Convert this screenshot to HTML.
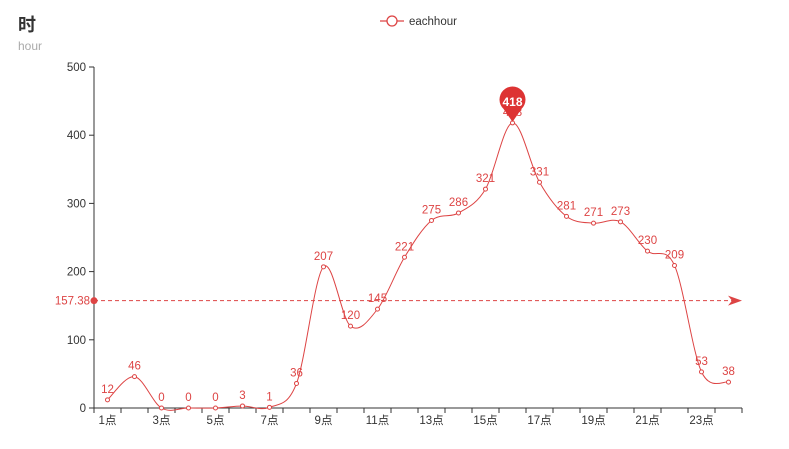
<!DOCTYPE html>
<html><head><meta charset="utf-8"><style>
body{margin:0;background:#fff;}
svg{display:block;font-family:"Liberation Sans","Noto Sans CJK SC",sans-serif;}
</style></head><body>
<svg id="c" width="789" height="449">
<text x="18" y="31" font-size="18" font-weight="bold" fill="#333">时</text>
<text x="18" y="50" font-size="12" fill="#aaa">hour</text>
<g>
<line x1="380" y1="21" x2="404" y2="21" stroke="#dd4444" stroke-width="1.3"/>
<circle cx="392" cy="21" r="5" fill="#fff" stroke="#dd4444" stroke-width="1.3"/>
<text x="409" y="25" font-size="11.5" fill="#333">eachhour</text>
</g>
<g id="g"></g>
</svg>
<script>
const categories=["1点","2点","3点","4点","5点","6点","7点","8点","9点","10点","11点","12点","13点","14点","15点","16点","17点","18点","19点","20点","21点","22点","23点","24点"];
const values=[12,46,0,0,0,3,1,36,207,120,145,221,275,286,321,418,331,281,271,273,230,209,53,38];
const yTicks=[0,100,200,300,400,500];
const NS="http://www.w3.org/2000/svg";
const g=document.getElementById('g');
const x0=94,x1=742,y0=408,y1=67,yMax=500;
const bw=(x1-x0)/categories.length;
const xs=i=>x0+bw*(i+0.5);
const ys=v=>y0-(v/yMax)*(y0-y1);
function mk(t,a,p){const e=document.createElementNS(NS,t);for(const k in a)e.setAttribute(k,a[k]);(p||g).appendChild(e);return e;}
let e=mk('line',{x1:x0,y1:y1,x2:x0,y2:y0,stroke:'#333'});


yTicks.forEach(t=>{
 mk('line',{x1:x0-5,x2:x0,y1:ys(t),y2:ys(t),stroke:'#333'});
 const tx=mk('text',{x:x0-8,y:ys(t)+4,'font-size':11.5,fill:'#333','text-anchor':'end'});
 tx.textContent=t;
 
 
});
e=mk('line',{x1:x0,y1:y0,x2:x1,y2:y0,stroke:'#333'});


categories.forEach((c,i)=>{
 mk('line',{x1:x0+bw*i,x2:x0+bw*i,y1:y0,y2:y0+5,stroke:'#333'});
 if(i%2===0){const tx=mk('text',{x:xs(i),y:y0+16,'font-size':11.5,fill:'#333','text-anchor':'middle'});
 tx.textContent=c;
 
 }
});
mk('line',{x1:x1,x2:x1,y1:y0,y2:y0+5,stroke:'#333'});
const pts=values.map((v,i)=>[xs(i),ys(v)]);
let d='M'+pts[0][0]+','+pts[0][1];
const s=0.5/3*2;
for(let i=0;i<pts.length-1;i++){
 const p0=pts[Math.max(0,i-1)],p1=pts[i],p2=pts[i+1],p3=pts[Math.min(pts.length-1,i+2)];
 const c1=[p1[0]+(p2[0]-p0[0])*s/2,p1[1]+(p2[1]-p0[1])*s/2];
 const c2=[p2[0]-(p3[0]-p1[0])*s/2,p2[1]-(p3[1]-p1[1])*s/2];
 d+=`C${c1[0]},${c1[1]} ${c2[0]},${c2[1]} ${p2[0]},${p2[1]}`;
}
e=mk('path',{d:d,fill:'none',stroke:'#dd4444','stroke-width':1});


values.forEach((v,i)=>{
 const c=mk('circle',{cx:xs(i),cy:ys(v),r:2,fill:'#fff',stroke:'#dd4444'});
 
 
 const t=mk('text',{x:xs(i),y:ys(v)-7,'font-size':11.5,fill:'#dd4444','text-anchor':'middle'});
 t.textContent=v;
 
 
});
const mean=values.reduce((a,b)=>a+b,0)/values.length;
const my=ys(mean);
e=mk('line',{x1:x0,x2:x1-8,y1:my,y2:my,stroke:'#dd4444','stroke-dasharray':'4,3'});


mk('circle',{cx:x0,cy:my,r:3.5,fill:'#dd4444'});
mk('path',{d:`M${x1-14},${my-5} L${x1},${my} L${x1-14},${my+5} L${x1-10},${my} Z`,fill:'#dd4444'});
e=mk('text',{x:x0-4,y:my+4,'font-size':11.5,fill:'#dd4444','text-anchor':'end'});
e.textContent=mean.toFixed(2);


let mi=values.indexOf(Math.max(...values));
const px=xs(mi),py=ys(values[mi]);
const mp=mk('g',{});


mk('path',{d:`M${px},${py-1} L${px-9},${py-14} A13,13 0 1 1 ${px+9},${py-14} Z`,fill:'#dd3333'},mp);
const tt=mk('text',{x:px,y:py-17,'font-size':12,'font-weight':'bold',fill:'#fff','text-anchor':'middle'},mp);
tt.textContent=values[mi];
</script>
</body></html>
